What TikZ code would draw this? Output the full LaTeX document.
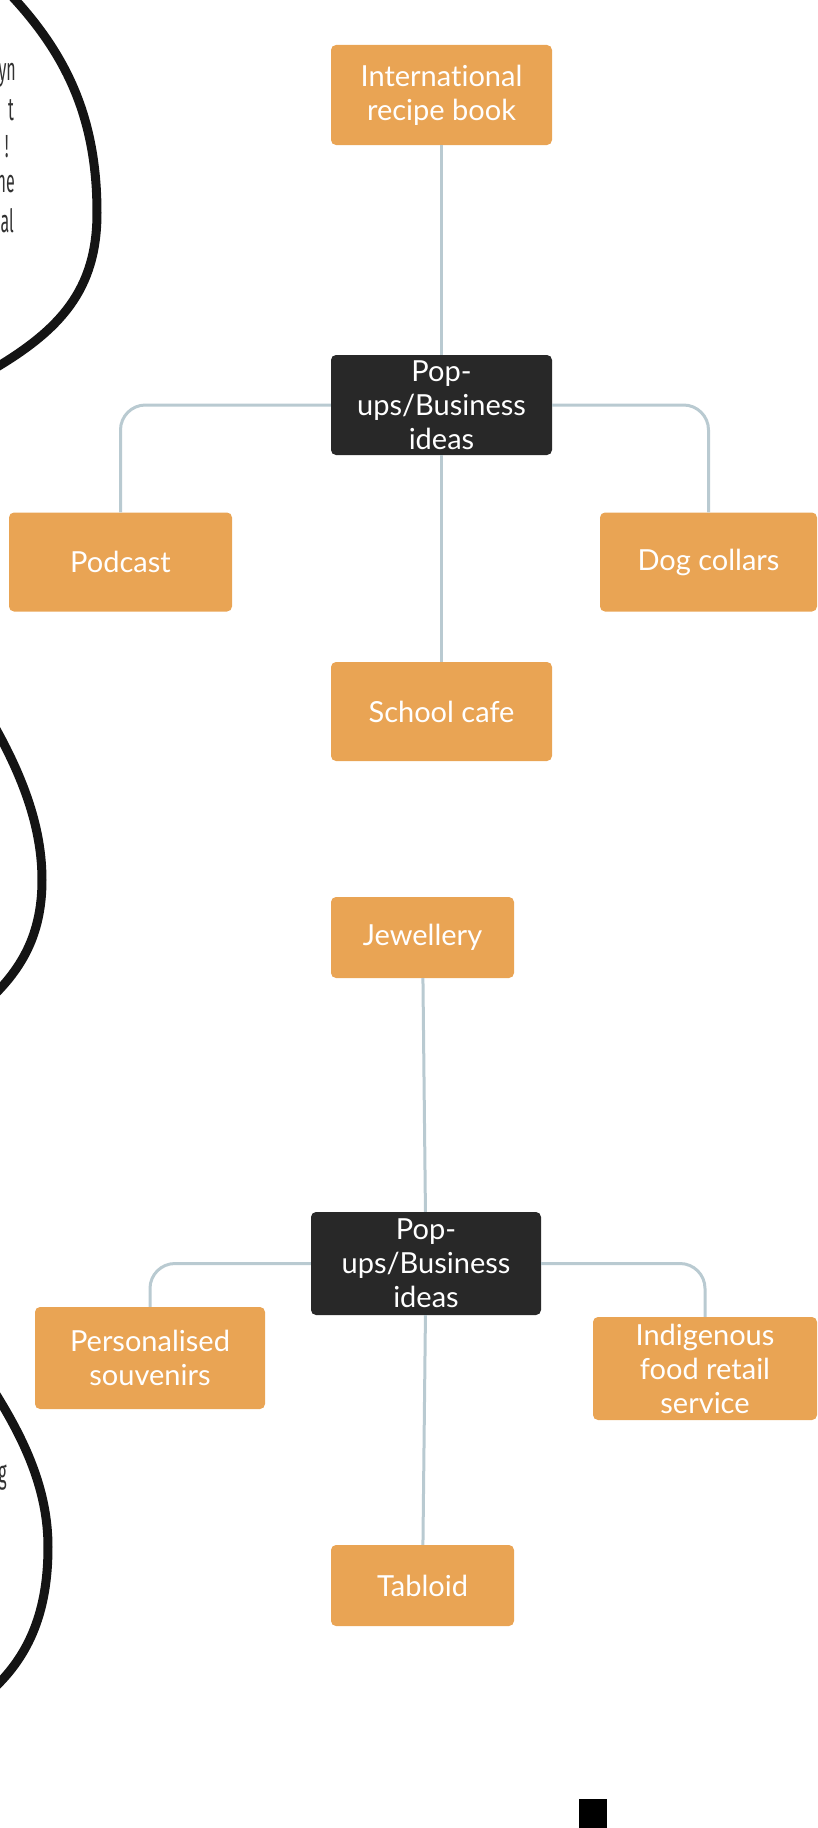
\documentclass[tikz,border=0pt]{standalone}
\usepackage{fontspec}
\setmainfont{Lato}[Ligatures=NoCommon]
\newfontfamily\bubblefont[FakeStretch=0.5]{Fira Sans}
\usepackage{xcolor}
\usepackage{tikz}
\definecolor{ideaorange}{RGB}{233,164,84}
\definecolor{hubgray}{RGB}{40,40,40}
\definecolor{linkgray}{RGB}{185,202,209}
\definecolor{inkblack}{RGB}{20,20,20}
\definecolor{scrapgray}{RGB}{50,50,50}

\begin{document}
\begin{tikzpicture}[x=1pt,y=-1pt,
  idea/.style={fill=ideaorange,text=white,rounded corners=5pt,align=center,inner sep=0pt,font=\fontsize{29}{34}\selectfont},
  hub/.style={idea,fill=hubgray},
  link/.style={draw=linkgray,line width=3pt,rounded corners=25pt},
  bubble/.style={draw=inkblack,line width=9pt},
  scrap/.style={text=scrapgray,anchor=east,inner sep=0pt,font=\bubblefont\fontsize{32}{38}\selectfont}]
\useasboundingbox (0,0) rectangle (817,1828);

\draw[bubble] (8,-8) .. controls (68,55) and (97,120) .. (97,213) .. controls (97,290) and (60,330) .. (-8,370);
\draw[bubble] (-8,722) .. controls (25,780) and (42,830) .. (42,880) .. controls (42,930) and (25,965) .. (-8,997);
\draw[bubble] (-8,1388) .. controls (25,1440) and (48,1490) .. (48,1547) .. controls (48,1610) and (30,1655) .. (-8,1690);

\node[scrap] (yn) at (16,75) {yn};
\node[scrap] (t) at (14,110) {t};
\node[scrap] (excl) at (9,147) {!};
\node[scrap] (ne) at (15,184) {ne};
\node[scrap] (al) at (14,221) {al};
\node[scrap] (g) at (7,1478) {g};

\node[idea,minimum width=221pt,minimum height=100pt] (recipe) at (441.5,95) {International\\recipe book};
\node[hub,minimum width=221pt,minimum height=100pt] (hubA) at (441.5,405) {Pop-\\ups/Business\\ideas};
\node[idea,minimum width=223pt,minimum height=99pt] (podcast) at (120.5,562) {Podcast};
\node[idea,minimum width=217pt,minimum height=99pt] (dog) at (708.5,562) {Dog collars};
\node[idea,minimum width=221pt,minimum height=99pt] (school) at (441.5,711.5) {School cafe};

\node[idea,minimum width=183pt,minimum height=81pt] (jewel) at (422.5,937.5) {Jewellery};
\node[hub,minimum width=230pt,minimum height=103pt] (hubB) at (426,1263.5) {Pop-\\ups/Business\\ideas};
\node[idea,minimum width=230pt,minimum height=102pt] (souvenir) at (150,1358) {Personalised\\souvenirs};
\node[idea,minimum width=224pt,minimum height=103pt] (indig) at (705,1368.5) {Indigenous\\food retail\\service};
\node[idea,minimum width=183pt,minimum height=81pt] (tabloid) at (422.5,1585.5) {Tabloid};

\draw[link] (recipe) -- (hubA);
\draw[link] (hubA.west) -| (podcast.north);
\draw[link] (hubA.east) -| (dog.north);
\draw[link] (hubA) -- (school);

\draw[link] (jewel) -- (hubB);
\draw[link] (hubB.west) -| (souvenir.north);
\draw[link] (hubB.east) -| (indig.north);
\draw[link] (hubB) -- (tabloid);

\fill[black] (579,1799) rectangle (607,1830);
\end{tikzpicture}
\end{document}
